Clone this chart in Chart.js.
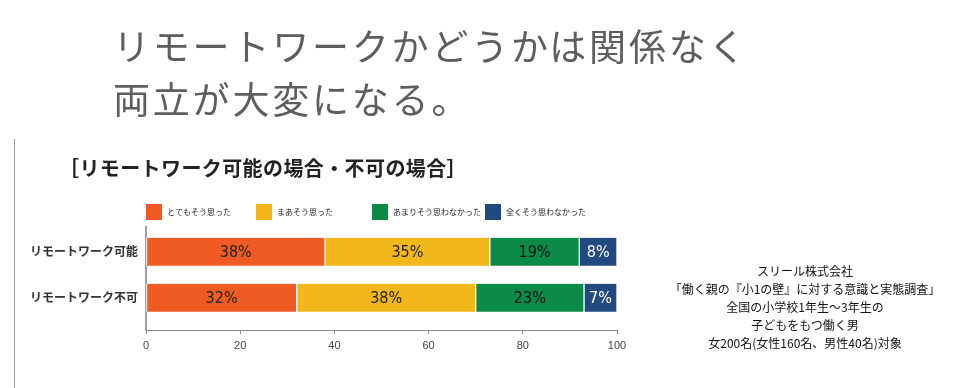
<!DOCTYPE html>
<html>
<head>
<meta charset="utf-8">
<script src="https://cdn.jsdelivr.net/npm/chart.js@4.4.1/dist/chart.umd.min.js"></script>
<style>
  html, body { margin:0; padding:0; background:#fff; }
  body { width:962px; height:388px; position:relative; overflow:hidden; font-family:"Noto Sans CJK JP", "Noto Sans", sans-serif; }
  #wrap { position:absolute; left:0; top:0; width:962px; height:388px; }
  .headline { position:absolute; left:113px; color:#5e5e5e; font-size:37px; letter-spacing:2.8px; white-space:nowrap; line-height:1; }
  #h1 { top:27px; }
  #h2 { top:80px; }
  #ctitle { position:absolute; left:59px; top:158px; font-size:20px; font-weight:bold; color:#222; white-space:nowrap; letter-spacing:0.4px; line-height:1; }
  #vline { position:absolute; left:14px; top:139px; width:1px; height:249px; background:#9a9a9a; }
  #note { position:absolute; left:655px; top:262px; width:300px; text-align:center; font-size:12px; line-height:18px; color:#111; }
</style>
</head>
<body>
<div id="vline"></div>
<div id="wrap"><canvas id="c"></canvas></div>
<div class="headline" id="h1">リモートワークかどうかは関係なく</div>
<div class="headline" id="h2">両立が大変になる。</div>
<div id="ctitle">［リモートワーク可能の場合・不可の場合］</div>
<div id="note">スリール株式会社<br>「働く親の『小1の壁』に対する意識と実態調査」<br>全国の小学校1年生～3年生の<br>子どもをもつ働く男<br>女200名(女性160名、男性40名)対象</div>
<script>
// ---- data ----
const categories = ['リモートワーク可能', 'リモートワーク不可'];
const seriesNames = ['とてもそう思った', 'まあそう思った', 'あまりそう思わなかった', '全くそう思わなかった'];
const veryMuch = [38, 32];
const somewhat = [35, 38];
const notMuch  = [19, 23];
const notAtAll = [8, 7];
const xTickValues = [0, 20, 40, 60, 80, 100];

// ---- styles ----
const colors = ['#F05A23', '#F2B71B', '#0C8A48', '#234A80'];
const labelColors = ['#222', '#222', '#111', '#fff'];
const legendOffsets = [0, 110, 226, 339];

const seriesValues = [veryMuch, somewhat, notMuch, notAtAll];

const datasets = seriesValues.map((vals, si) => ({
  label: seriesNames[si],
  data: vals.map((v, i) => ({ x: v, y: i })),
  backgroundColor: colors[si],
  borderColor: '#ffffff',
  borderWidth: { left: 1, right: 1, top: 0, bottom: 0 },
  borderSkipped: false,
  barThickness: 28
}));

const valueLabels = {
  id: 'valueLabels',
  afterDatasetsDraw(chart) {
    const ctx = chart.ctx;
    ctx.save();
    ctx.font = '16px "Liberation Sans Narrow", "DejaVu Sans Condensed", "Liberation Sans", sans-serif';
    ctx.textAlign = 'center';
    ctx.textBaseline = 'middle';
    chart.data.datasets.forEach((ds, si) => {
      const meta = chart.getDatasetMeta(si);
      meta.data.forEach((el, i) => {
        const v = seriesValues[si][i];
        const cx = (el.x + el.base) / 2;
        ctx.fillStyle = labelColors[si];
        ctx.fillText(v + '%', cx, el.y + 1);
      });
    });
    ctx.restore();
  }
};

const customLegend = {
  id: 'customLegend',
  afterDraw(chart) {
    const ctx = chart.ctx;
    const left = chart.chartArea.left;
    const y = 204;
    ctx.save();
    ctx.font = '8px "Noto Sans CJK JP", sans-serif';
    ctx.textBaseline = 'middle';
    ctx.textAlign = 'left';
    chart.data.datasets.forEach((ds, si) => {
      const x = left + legendOffsets[si];
      ctx.fillStyle = ds.backgroundColor;
      ctx.fillRect(x, y, 16, 16);
      ctx.fillStyle = '#222';
      ctx.fillText(ds.label, x + 21, y + 8);
    });
    ctx.restore();
  }
};

new Chart(document.getElementById('c'), {
  type: 'bar',
  data: { datasets },
  plugins: [valueLabels, customLegend],
  options: {
    indexAxis: 'y',
    responsive: true,
    maintainAspectRatio: false,
    animation: false,
    layout: { padding: { top: 227, right: 345, bottom: 32, left: 0 } },
    plugins: { legend: { display: false }, tooltip: { enabled: false }, title: { display: false } },
    scales: {
      x: {
        type: 'linear',
        stacked: true,
        min: 0,
        max: 100,
        afterBuildTicks(scale) { scale.ticks = xTickValues.map(v => ({ value: v })); },
        afterFit(scale) { scale.height = 26; },
        grid: { drawOnChartArea: false, drawTicks: true, tickLength: 4, color: '#8a8a8a' },
        border: { display: true, color: '#8a8a8a', width: 1 },
        ticks: { color: '#444', padding: 5, font: { size: 11, family: '"Liberation Sans", sans-serif' } }
      },
      y: {
        type: 'linear',
        stacked: true,
        offset: false,
        reverse: true,
        min: -0.54,
        max: 1.7,
        afterBuildTicks(scale) { scale.ticks = categories.map((c, i) => ({ value: i })); },
        afterFit(scale) { scale.width = 146; },
        grid: { display: false, drawTicks: false, offset: false },
        border: { display: true, color: '#a0a0a0', width: 2 },
        ticks: {
          padding: 8,
          color: '#333',
          font: { size: 12, weight: 'bold', family: '"Noto Sans CJK JP", sans-serif' },
          callback: (v) => categories[v] !== undefined ? categories[v] : ''
        }
      }
    }
  }
});
</script>
</body>
</html>
